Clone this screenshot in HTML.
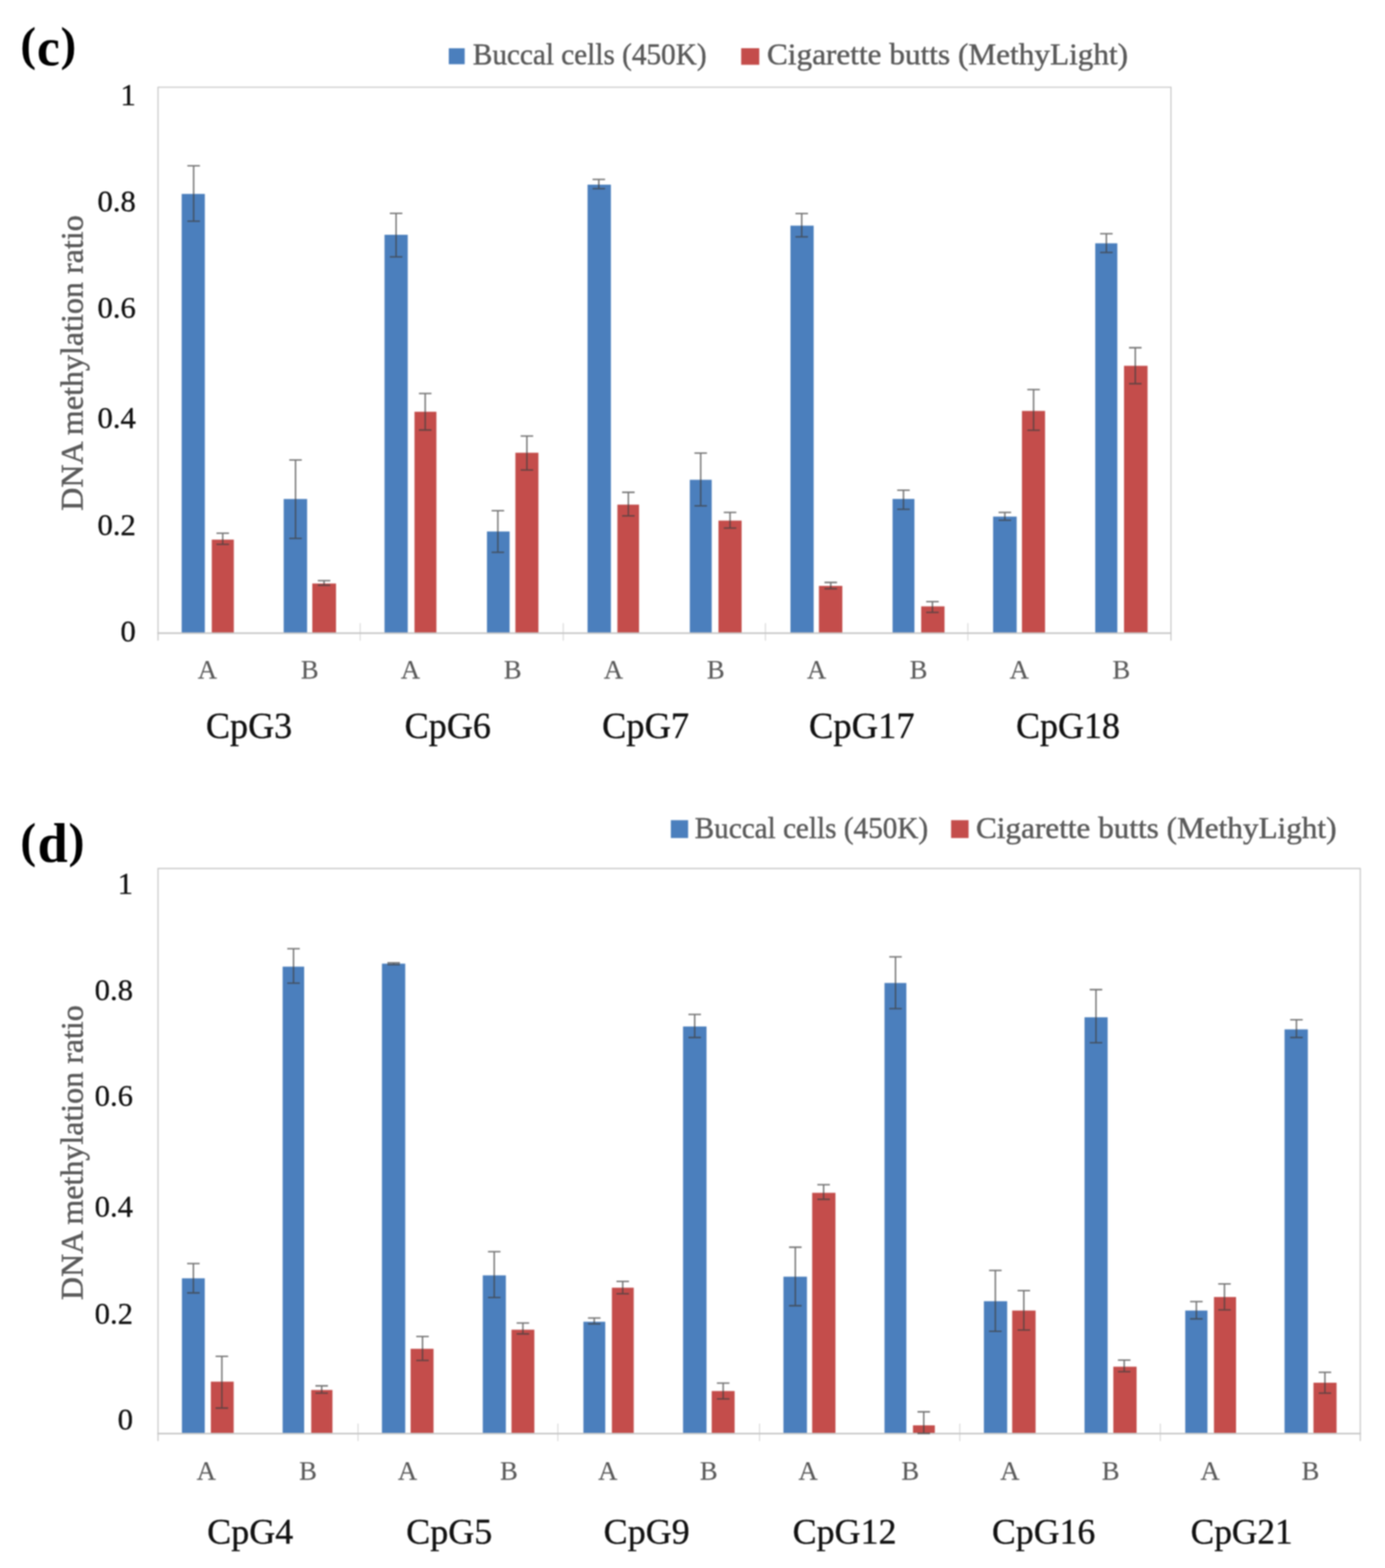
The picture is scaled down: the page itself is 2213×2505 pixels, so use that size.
<!DOCTYPE html>
<html lang="en"><head><meta charset="utf-8"><title>DNA methylation ratio: buccal cells vs cigarette butts</title>
<style>html,body{margin:0;padding:0;background:#fff}svg{display:block;filter:blur(1.1px)}text{font-family:'Liberation Serif', serif;white-space:pre;stroke-linejoin:round}.g{stroke:#5a5a5a;stroke-width:.7}.x{stroke:#5a5a5a;stroke-width:.25}.k{stroke:#111;stroke-width:.5}</style>
</head><body>
<svg width="2213" height="2505" viewBox="0 0 2213 2505">
<rect width="2213" height="2505" fill="#fff"/>
<path d="M252.5 1023.5V139.3H1871.0V1023.5" stroke="#c6c6c6" stroke-width="1.8" fill="none"/>
<line x1="575.5" y1="995.5" x2="575.5" y2="1023.5" stroke="#d4d4d4" stroke-width="1.5"/>
<line x1="900.0" y1="995.5" x2="900.0" y2="1023.5" stroke="#d4d4d4" stroke-width="1.5"/>
<line x1="1223.0" y1="995.5" x2="1223.0" y2="1023.5" stroke="#d4d4d4" stroke-width="1.5"/>
<line x1="1546.5" y1="995.5" x2="1546.5" y2="1023.5" stroke="#d4d4d4" stroke-width="1.5"/>
<rect x="290.3" y="309.8" width="37.0" height="701.7" fill="#4b7fbd"/>
<rect x="338.4" y="862.1" width="35.2" height="149.4" fill="#c44d4b"/>
<rect x="453.3" y="797.2" width="37.4" height="214.3" fill="#4b7fbd"/>
<rect x="499.0" y="932.2" width="37.9" height="79.3" fill="#c44d4b"/>
<rect x="614.4" y="375.1" width="37.1" height="636.4" fill="#4b7fbd"/>
<rect x="662.3" y="657.8" width="35.0" height="353.7" fill="#c44d4b"/>
<rect x="778.1" y="849.1" width="36.2" height="162.4" fill="#4b7fbd"/>
<rect x="823.5" y="723.3" width="36.8" height="288.2" fill="#c44d4b"/>
<rect x="938.8" y="295.0" width="37.3" height="716.5" fill="#4b7fbd"/>
<rect x="986.5" y="806.2" width="34.6" height="205.3" fill="#c44d4b"/>
<rect x="1102.2" y="766.5" width="35.0" height="245.0" fill="#4b7fbd"/>
<rect x="1148.0" y="831.7" width="37.0" height="179.8" fill="#c44d4b"/>
<rect x="1263.0" y="360.5" width="37.1" height="651.0" fill="#4b7fbd"/>
<rect x="1308.5" y="936.0" width="37.4" height="75.5" fill="#c44d4b"/>
<rect x="1426.2" y="797.1" width="34.9" height="214.4" fill="#4b7fbd"/>
<rect x="1471.9" y="968.7" width="37.3" height="42.8" fill="#c44d4b"/>
<rect x="1586.8" y="825.3" width="37.7" height="186.2" fill="#4b7fbd"/>
<rect x="1632.9" y="656.5" width="36.9" height="355.0" fill="#c44d4b"/>
<rect x="1750.0" y="388.7" width="35.3" height="622.8" fill="#4b7fbd"/>
<rect x="1796.0" y="584.4" width="37.6" height="427.1" fill="#c44d4b"/>
<line x1="251.5" y1="1011.5" x2="1872.0" y2="1011.5" stroke="#c6c6c6" stroke-width="2.4"/>
<path d="M299.4 264.9H319.4M299.4 353.3H319.4M309.4 264.9V353.3" stroke="#404040" stroke-width="2.3" stroke-opacity=".72" fill="none"/>
<path d="M345.9 851.9H365.9M345.9 869.6H365.9M355.9 851.9V869.6" stroke="#404040" stroke-width="2.3" stroke-opacity=".72" fill="none"/>
<path d="M462.2 734.9H482.2M462.2 860.2H482.2M472.2 734.9V860.2" stroke="#404040" stroke-width="2.3" stroke-opacity=".72" fill="none"/>
<path d="M507.8 927.7H527.8M507.8 935.0H527.8M517.8 927.7V935.0" stroke="#404040" stroke-width="2.3" stroke-opacity=".72" fill="none"/>
<path d="M622.9 340.9H642.9M622.9 410.3H642.9M632.9 340.9V410.3" stroke="#404040" stroke-width="2.3" stroke-opacity=".72" fill="none"/>
<path d="M669.4 628.6H689.4M669.4 687.0H689.4M679.4 628.6V687.0" stroke="#404040" stroke-width="2.3" stroke-opacity=".72" fill="none"/>
<path d="M785.5 815.9H805.5M785.5 882.3H805.5M795.5 815.9V882.3" stroke="#404040" stroke-width="2.3" stroke-opacity=".72" fill="none"/>
<path d="M831.9 696.7H851.9M831.9 750.8H851.9M841.9 696.7V750.8" stroke="#404040" stroke-width="2.3" stroke-opacity=".72" fill="none"/>
<path d="M946.8 286.7H966.8M946.8 301.3H966.8M956.8 286.7V301.3" stroke="#404040" stroke-width="2.3" stroke-opacity=".72" fill="none"/>
<path d="M994.0 786.5H1014.0M994.0 824.2H1014.0M1004.0 786.5V824.2" stroke="#404040" stroke-width="2.3" stroke-opacity=".72" fill="none"/>
<path d="M1109.6 723.9H1129.6M1109.6 808.1H1129.6M1119.6 723.9V808.1" stroke="#404040" stroke-width="2.3" stroke-opacity=".72" fill="none"/>
<path d="M1156.5 818.7H1176.5M1156.5 843.6H1176.5M1166.5 818.7V843.6" stroke="#404040" stroke-width="2.3" stroke-opacity=".72" fill="none"/>
<path d="M1271.0 341.2H1291.0M1271.0 378.4H1291.0M1281.0 341.2V378.4" stroke="#404040" stroke-width="2.3" stroke-opacity=".72" fill="none"/>
<path d="M1317.4 930.5H1337.4M1317.4 940.5H1337.4M1327.4 930.5V940.5" stroke="#404040" stroke-width="2.3" stroke-opacity=".72" fill="none"/>
<path d="M1433.6 783.2H1453.6M1433.6 813.7H1453.6M1443.6 783.2V813.7" stroke="#404040" stroke-width="2.3" stroke-opacity=".72" fill="none"/>
<path d="M1479.9 961.2H1499.9M1479.9 978.4H1499.9M1489.9 961.2V978.4" stroke="#404040" stroke-width="2.3" stroke-opacity=".72" fill="none"/>
<path d="M1595.6 818.7H1615.6M1595.6 831.1H1615.6M1605.6 818.7V831.1" stroke="#404040" stroke-width="2.3" stroke-opacity=".72" fill="none"/>
<path d="M1641.5 622.3H1661.5M1641.5 687.4H1661.5M1651.5 622.3V687.4" stroke="#404040" stroke-width="2.3" stroke-opacity=".72" fill="none"/>
<path d="M1757.8 373.4H1777.8M1757.8 403.3H1777.8M1767.8 373.4V403.3" stroke="#404040" stroke-width="2.3" stroke-opacity=".72" fill="none"/>
<path d="M1804.0 555.5H1824.0M1804.0 613.0H1824.0M1814.0 555.5V613.0" stroke="#404040" stroke-width="2.3" stroke-opacity=".72" fill="none"/>
<text class="k" x="217.0" y="167.9" font-size="49" fill="#111111" text-anchor="end">1</text>
<text class="k" x="217.0" y="338.1" font-size="49" fill="#111111" text-anchor="end">0.8</text>
<text class="k" x="217.0" y="507.8" font-size="49" fill="#111111" text-anchor="end">0.6</text>
<text class="k" x="217.0" y="684.4" font-size="49" fill="#111111" text-anchor="end">0.4</text>
<text class="k" x="217.0" y="854.7" font-size="49" fill="#111111" text-anchor="end">0.2</text>
<text class="k" x="217.0" y="1024.7" font-size="49" fill="#111111" text-anchor="end">0</text>
<text transform="translate(131.8 816.0) rotate(-90)" class="g" font-size="50" fill="#5a5a5a" textLength="472.0" lengthAdjust="spacingAndGlyphs">DNA methylation ratio</text>
<text class="x" x="331.3" y="1084.3" font-size="42.5" fill="#5a5a5a" text-anchor="middle">A</text>
<text class="x" x="494.9" y="1084.3" font-size="42.5" fill="#5a5a5a" text-anchor="middle">B</text>
<text class="x" x="655.9" y="1084.3" font-size="42.5" fill="#5a5a5a" text-anchor="middle">A</text>
<text class="x" x="819.3" y="1084.3" font-size="42.5" fill="#5a5a5a" text-anchor="middle">B</text>
<text class="x" x="980.0" y="1084.3" font-size="42.5" fill="#5a5a5a" text-anchor="middle">A</text>
<text class="x" x="1143.6" y="1084.3" font-size="42.5" fill="#5a5a5a" text-anchor="middle">B</text>
<text class="x" x="1304.8" y="1084.3" font-size="42.5" fill="#5a5a5a" text-anchor="middle">A</text>
<text class="x" x="1467.8" y="1084.3" font-size="42.5" fill="#5a5a5a" text-anchor="middle">B</text>
<text class="x" x="1628.6" y="1084.3" font-size="42.5" fill="#5a5a5a" text-anchor="middle">A</text>
<text class="x" x="1791.7" y="1084.3" font-size="42.5" fill="#5a5a5a" text-anchor="middle">B</text>
<text class="k" x="329.0" y="1179.0" font-size="59" fill="#111111" text-anchor="start" textLength="138.0" lengthAdjust="spacingAndGlyphs">CpG3</text>
<text class="k" x="646.5" y="1179.0" font-size="59" fill="#111111" text-anchor="start" textLength="138.0" lengthAdjust="spacingAndGlyphs">CpG6</text>
<text class="k" x="962.0" y="1179.0" font-size="59" fill="#111111" text-anchor="start" textLength="139.0" lengthAdjust="spacingAndGlyphs">CpG7</text>
<text class="k" x="1292.5" y="1179.0" font-size="59" fill="#111111" text-anchor="start" textLength="169.0" lengthAdjust="spacingAndGlyphs">CpG17</text>
<text class="k" x="1623.5" y="1179.0" font-size="59" fill="#111111" text-anchor="start" textLength="166.0" lengthAdjust="spacingAndGlyphs">CpG18</text>
<rect x="717.1" y="77.1" width="25.4" height="25.5" fill="#4b7fbd"/>
<text class="g" x="755.5" y="102.9" font-size="49" fill="#5a5a5a" text-anchor="start" textLength="373.5" lengthAdjust="spacingAndGlyphs">Buccal cells (450K)</text>
<rect x="1184.3" y="77.0" width="28.9" height="26.5" fill="#c44d4b"/>
<text class="g" x="1225.5" y="102.9" font-size="49" fill="#5a5a5a" text-anchor="start" textLength="577.0" lengthAdjust="spacingAndGlyphs">Cigarette butts (MethyLight)</text>
<text font-weight="bold" fill="#000"><tspan x="32.6" y="95.5" font-size="76.5" textLength="25.1" lengthAdjust="spacingAndGlyphs">(</tspan><tspan x="59.1" y="104.0" font-size="85.3" textLength="36.6" lengthAdjust="spacingAndGlyphs">c</tspan><tspan x="96.7" y="95.5" font-size="76.5" textLength="25.0" lengthAdjust="spacingAndGlyphs">)</tspan></text>
<path d="M252.5 2302.3V1387.5H2173.5V2302.3" stroke="#c6c6c6" stroke-width="1.8" fill="none"/>
<line x1="572.1" y1="2274.3" x2="572.1" y2="2302.3" stroke="#d4d4d4" stroke-width="1.5"/>
<line x1="891.4" y1="2274.3" x2="891.4" y2="2302.3" stroke="#d4d4d4" stroke-width="1.5"/>
<line x1="1213.6" y1="2274.3" x2="1213.6" y2="2302.3" stroke="#d4d4d4" stroke-width="1.5"/>
<line x1="1533.6" y1="2274.3" x2="1533.6" y2="2302.3" stroke="#d4d4d4" stroke-width="1.5"/>
<line x1="1854.0" y1="2274.3" x2="1854.0" y2="2302.3" stroke="#d4d4d4" stroke-width="1.5"/>
<rect x="290.7" y="2042.2" width="36.5" height="248.1" fill="#4b7fbd"/>
<rect x="336.9" y="2207.3" width="36.5" height="83.0" fill="#c44d4b"/>
<rect x="451.6" y="1544.3" width="34.4" height="746.0" fill="#4b7fbd"/>
<rect x="497.3" y="2220.6" width="33.9" height="69.7" fill="#c44d4b"/>
<rect x="610.3" y="1539.5" width="37.2" height="750.8" fill="#4b7fbd"/>
<rect x="656.1" y="2154.8" width="36.6" height="135.5" fill="#c44d4b"/>
<rect x="771.4" y="2037.5" width="36.9" height="252.8" fill="#4b7fbd"/>
<rect x="817.3" y="2124.3" width="36.5" height="166.0" fill="#c44d4b"/>
<rect x="932.2" y="2111.6" width="34.9" height="178.7" fill="#4b7fbd"/>
<rect x="977.7" y="2057.2" width="34.9" height="233.1" fill="#c44d4b"/>
<rect x="1091.4" y="1639.9" width="37.5" height="650.4" fill="#4b7fbd"/>
<rect x="1137.2" y="2222.3" width="36.6" height="68.0" fill="#c44d4b"/>
<rect x="1251.8" y="2039.6" width="37.6" height="250.7" fill="#4b7fbd"/>
<rect x="1297.7" y="1905.6" width="37.2" height="384.7" fill="#c44d4b"/>
<rect x="1413.3" y="1570.4" width="34.9" height="719.9" fill="#4b7fbd"/>
<rect x="1458.8" y="2277.1" width="34.9" height="13.2" fill="#c44d4b"/>
<rect x="1572.1" y="2078.8" width="37.2" height="211.5" fill="#4b7fbd"/>
<rect x="1617.3" y="2093.7" width="37.4" height="196.6" fill="#c44d4b"/>
<rect x="1732.9" y="1625.2" width="36.9" height="665.1" fill="#4b7fbd"/>
<rect x="1778.9" y="2183.4" width="37.2" height="106.9" fill="#c44d4b"/>
<rect x="1893.8" y="2093.7" width="35.5" height="196.6" fill="#4b7fbd"/>
<rect x="1939.7" y="2072.1" width="35.3" height="218.2" fill="#c44d4b"/>
<rect x="2052.5" y="1644.5" width="37.2" height="645.8" fill="#4b7fbd"/>
<rect x="2098.7" y="2209.0" width="36.9" height="81.3" fill="#c44d4b"/>
<line x1="251.5" y1="2290.3" x2="2174.5" y2="2290.3" stroke="#c6c6c6" stroke-width="2.4"/>
<path d="M299.0 2018.6H319.0M299.0 2065.5H319.0M309.0 2018.6V2065.5" stroke="#404040" stroke-width="2.3" stroke-opacity=".72" fill="none"/>
<path d="M344.5 2166.8H364.5M344.5 2249.5H364.5M354.5 2166.8V2249.5" stroke="#404040" stroke-width="2.3" stroke-opacity=".72" fill="none"/>
<path d="M459.0 1515.7H479.0M459.0 1570.6H479.0M469.0 1515.7V1570.6" stroke="#404040" stroke-width="2.3" stroke-opacity=".72" fill="none"/>
<path d="M504.0 2214.0H524.0M504.0 2225.6H524.0M514.0 2214.0V2225.6" stroke="#404040" stroke-width="2.3" stroke-opacity=".72" fill="none"/>
<path d="M619.0 1538.2H639.0M619.0 1541.0H639.0M629.0 1538.2V1541.0" stroke="#404040" stroke-width="2.3" stroke-opacity=".72" fill="none"/>
<path d="M665.1 2135.2H685.1M665.1 2173.4H685.1M675.1 2135.2V2173.4" stroke="#404040" stroke-width="2.3" stroke-opacity=".72" fill="none"/>
<path d="M779.7 1999.7H799.7M779.7 2072.8H799.7M789.7 1999.7V2072.8" stroke="#404040" stroke-width="2.3" stroke-opacity=".72" fill="none"/>
<path d="M825.5 2113.6H845.5M825.5 2131.0H845.5M835.5 2113.6V2131.0" stroke="#404040" stroke-width="2.3" stroke-opacity=".72" fill="none"/>
<path d="M939.5 2105.7H959.5M939.5 2115.0H959.5M949.5 2105.7V2115.0" stroke="#404040" stroke-width="2.3" stroke-opacity=".72" fill="none"/>
<path d="M985.0 2047.2H1005.0M985.0 2066.8H1005.0M995.0 2047.2V2066.8" stroke="#404040" stroke-width="2.3" stroke-opacity=".72" fill="none"/>
<path d="M1100.0 1620.6H1120.0M1100.0 1657.5H1120.0M1110.0 1620.6V1657.5" stroke="#404040" stroke-width="2.3" stroke-opacity=".72" fill="none"/>
<path d="M1145.5 2209.7H1165.5M1145.5 2234.9H1165.5M1155.5 2209.7V2234.9" stroke="#404040" stroke-width="2.3" stroke-opacity=".72" fill="none"/>
<path d="M1260.8 1992.5H1280.8M1260.8 2086.0H1280.8M1270.8 1992.5V2086.0" stroke="#404040" stroke-width="2.3" stroke-opacity=".72" fill="none"/>
<path d="M1306.0 1892.7H1326.0M1306.0 1916.0H1326.0M1316.0 1892.7V1916.0" stroke="#404040" stroke-width="2.3" stroke-opacity=".72" fill="none"/>
<path d="M1420.9 1528.6H1440.9M1420.9 1611.3H1440.9M1430.9 1528.6V1611.3" stroke="#404040" stroke-width="2.3" stroke-opacity=".72" fill="none"/>
<path d="M1466.0 2255.5H1486.0M1466.0 2290.0H1486.0M1476.0 2255.5V2290.0" stroke="#404040" stroke-width="2.3" stroke-opacity=".72" fill="none"/>
<path d="M1580.4 2029.6H1600.4M1580.4 2126.9H1600.4M1590.4 2029.6V2126.9" stroke="#404040" stroke-width="2.3" stroke-opacity=".72" fill="none"/>
<path d="M1625.9 2061.8H1645.9M1625.9 2124.9H1645.9M1635.9 2061.8V2124.9" stroke="#404040" stroke-width="2.3" stroke-opacity=".72" fill="none"/>
<path d="M1741.2 1581.0H1761.2M1741.2 1665.8H1761.2M1751.2 1581.0V1665.8" stroke="#404040" stroke-width="2.3" stroke-opacity=".72" fill="none"/>
<path d="M1786.3 2172.8H1806.3M1786.3 2191.4H1806.3M1796.3 2172.8V2191.4" stroke="#404040" stroke-width="2.3" stroke-opacity=".72" fill="none"/>
<path d="M1901.6 2079.4H1921.6M1901.6 2107.0H1921.6M1911.6 2079.4V2107.0" stroke="#404040" stroke-width="2.3" stroke-opacity=".72" fill="none"/>
<path d="M1946.5 2051.2H1966.5M1946.5 2092.7H1966.5M1956.5 2051.2V2092.7" stroke="#404040" stroke-width="2.3" stroke-opacity=".72" fill="none"/>
<path d="M2061.5 1629.2H2081.5M2061.5 1657.5H2081.5M2071.5 1629.2V1657.5" stroke="#404040" stroke-width="2.3" stroke-opacity=".72" fill="none"/>
<path d="M2107.0 2192.4H2127.0M2107.0 2225.6H2127.0M2117.0 2192.4V2225.6" stroke="#404040" stroke-width="2.3" stroke-opacity=".72" fill="none"/>
<text class="k" x="212.5" y="1427.9" font-size="49" fill="#111111" text-anchor="end">1</text>
<text class="k" x="212.5" y="1597.8" font-size="49" fill="#111111" text-anchor="end">0.8</text>
<text class="k" x="212.5" y="1767.4" font-size="49" fill="#111111" text-anchor="end">0.6</text>
<text class="k" x="212.5" y="1944.1" font-size="49" fill="#111111" text-anchor="end">0.4</text>
<text class="k" x="212.5" y="2114.8" font-size="49" fill="#111111" text-anchor="end">0.2</text>
<text class="k" x="212.5" y="2284.4" font-size="49" fill="#111111" text-anchor="end">0</text>
<text transform="translate(131.8 2077.0) rotate(-90)" class="g" font-size="50" fill="#5a5a5a" textLength="471.0" lengthAdjust="spacingAndGlyphs">DNA methylation ratio</text>
<text class="x" x="329.5" y="2364.2" font-size="42.5" fill="#5a5a5a" text-anchor="middle">A</text>
<text class="x" x="492.3" y="2364.2" font-size="42.5" fill="#5a5a5a" text-anchor="middle">B</text>
<text class="x" x="651.1" y="2364.2" font-size="42.5" fill="#5a5a5a" text-anchor="middle">A</text>
<text class="x" x="813.3" y="2364.2" font-size="42.5" fill="#5a5a5a" text-anchor="middle">B</text>
<text class="x" x="971.0" y="2364.2" font-size="42.5" fill="#5a5a5a" text-anchor="middle">A</text>
<text class="x" x="1132.5" y="2364.2" font-size="42.5" fill="#5a5a5a" text-anchor="middle">B</text>
<text class="x" x="1291.0" y="2364.2" font-size="42.5" fill="#5a5a5a" text-anchor="middle">A</text>
<text class="x" x="1454.4" y="2364.2" font-size="42.5" fill="#5a5a5a" text-anchor="middle">B</text>
<text class="x" x="1613.6" y="2364.2" font-size="42.5" fill="#5a5a5a" text-anchor="middle">A</text>
<text class="x" x="1774.7" y="2364.2" font-size="42.5" fill="#5a5a5a" text-anchor="middle">B</text>
<text class="x" x="1933.6" y="2364.2" font-size="42.5" fill="#5a5a5a" text-anchor="middle">A</text>
<text class="x" x="2093.9" y="2364.2" font-size="42.5" fill="#5a5a5a" text-anchor="middle">B</text>
<text class="k" x="331.0" y="2465.8" font-size="58" fill="#111111" text-anchor="start" textLength="137.5" lengthAdjust="spacingAndGlyphs">CpG4</text>
<text class="k" x="649.0" y="2465.8" font-size="58" fill="#111111" text-anchor="start" textLength="137.5" lengthAdjust="spacingAndGlyphs">CpG5</text>
<text class="k" x="964.5" y="2465.8" font-size="58" fill="#111111" text-anchor="start" textLength="137.5" lengthAdjust="spacingAndGlyphs">CpG9</text>
<text class="k" x="1266.5" y="2465.8" font-size="58" fill="#111111" text-anchor="start" textLength="166.0" lengthAdjust="spacingAndGlyphs">CpG12</text>
<text class="k" x="1585.0" y="2465.8" font-size="58" fill="#111111" text-anchor="start" textLength="165.0" lengthAdjust="spacingAndGlyphs">CpG16</text>
<text class="k" x="1902.5" y="2465.8" font-size="58" fill="#111111" text-anchor="start" textLength="163.0" lengthAdjust="spacingAndGlyphs">CpG21</text>
<rect x="1071.9" y="1310.3" width="27.6" height="28.5" fill="#4b7fbd"/>
<text class="g" x="1110.0" y="1338.8" font-size="49" fill="#5a5a5a" text-anchor="start" textLength="373.0" lengthAdjust="spacingAndGlyphs">Buccal cells (450K)</text>
<rect x="1519.7" y="1310.3" width="27.9" height="28.5" fill="#c44d4b"/>
<text class="g" x="1559.5" y="1338.8" font-size="49" fill="#5a5a5a" text-anchor="start" textLength="576.0" lengthAdjust="spacingAndGlyphs">Cigarette butts (MethyLight)</text>
<text font-weight="bold" fill="#000"><tspan x="32.6" y="1368.8" font-size="77.4" textLength="25.2" lengthAdjust="spacingAndGlyphs">(</tspan><tspan x="59.9" y="1377.0" font-size="88.1" textLength="48.3" lengthAdjust="spacingAndGlyphs">d</tspan><tspan x="109.4" y="1368.8" font-size="77.4" textLength="25.5" lengthAdjust="spacingAndGlyphs">)</tspan></text>
</svg></body></html>
